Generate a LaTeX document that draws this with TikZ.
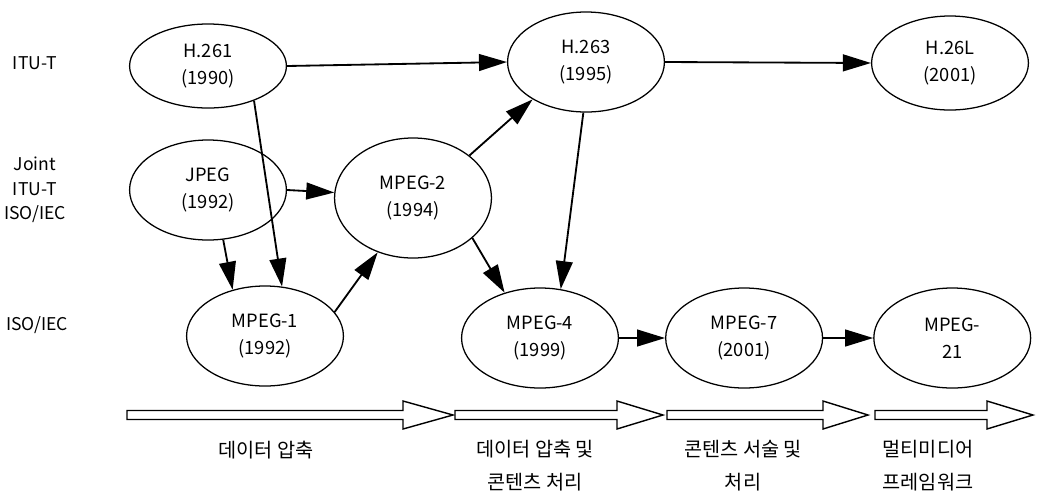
\documentclass[tikz,border=0pt]{standalone}
\usepackage{fontspec}
\setmainfont{Noto Sans CJK KR}
\usetikzlibrary{positioning,shapes.geometric,arrows.meta}

\begin{document}
\begin{tikzpicture}[x=0.025cm, y=-0.025cm,
        stdnode/.style={ellipse, draw=black, line width=0.9pt, inner sep=0pt, align=center, minimum width=3.92cm, minimum height=2.5cm, font=\fontsize{13}{19}\selectfont},
        groupnode/.style={align=center, font=\fontsize{12.5}{17.5}\selectfont},
        stagetext/.style={align=center, font=\fontsize{14}{23.5}\selectfont},
        link/.style={-{Triangle[length=0.7cm, width=0.42cm]}, line width=1.3pt},
        stagearrow/.style={draw=black, line width=1pt, fill=white, line join=miter},
]
        \useasboundingbox (0,0) rectangle (1039,496);

        % standard groups
        \node[groupnode] (itut) at (35,63) {ITU-T};
        \node[groupnode] (joint) at (35,190) {Joint\\ITU-T\\ISO/IEC};
        \node[groupnode] (isoiec) at (37,325) {ISO/IEC};

        % standards
        \node[stdnode, minimum height=2.1cm] (h261) at (208,66) {H.261\\(1990)};
        \node[stdnode] (h263) at (586,62) {H.263\\(1995)};
        \node[stdnode, minimum height=2.35cm] (h26l) at (950,63) {H.26L\\(2001)};
        \node[stdnode] (jpeg) at (208,190) {JPEG\\(1992)};
        \node[stdnode, minimum height=3cm] (mpeg2) at (413,198) {MPEG-2\\(1994)};
        \node[stdnode] (mpeg1) at (265,336) {MPEG-1\\(1992)};
        \node[stdnode] (mpeg4) at (540,338) {MPEG-4\\(1999)};
        \node[stdnode] (mpeg7) [right=1.15cm of mpeg4] {MPEG-7\\(2001)};
        \node[stdnode] (mpeg21) [right=1.25cm of mpeg7] {MPEG-\\21};

        \draw[link] (h261.east) -- (h263.west);
        \draw[link] (h263.east) -- (h26l.west);
        \draw[link] (h261.-37) -- (mpeg1.71);
        \draw[link] (jpeg.-73) -- (mpeg1.125);
        \draw[link] (jpeg.east) -- (mpeg2.176);
        \draw[link] (mpeg1.19) -- (mpeg2.-123);
        \draw[link] (mpeg2.37) -- (h263.-145);
        \draw[link] (mpeg2.-34) -- (mpeg4.128);
        \draw[link] (h263.-93) -- (mpeg4.67);
        \draw[link] (mpeg4.east) -- (mpeg7.west);
        \draw[link] (mpeg7.east) -- (mpeg21.west);

        % stages
        \foreach \xa/\xb/\xc in {127/403/453, 455/617/663, 667/823/868, 875/987/1033}
            \draw[stagearrow] (\xa,410.5) -- (\xb,410.5) -- (\xb,401) -- (\xc,415) -- (\xb,429) -- (\xb,419.5) -- (\xa,419.5) -- cycle;

        \node[stagetext] (stageone) at (266,450) {데이터 압축};
        \node[stagetext] (stagetwo) at (535,466) {데이터 압축 및\\콘텐츠 처리};
        \node[stagetext] (stagethree) at (743,466) {콘텐츠 서술 및\\처리};
        \node[stagetext] (stagefour) at (928,466) {멀티미디어\\프레임워크};
\end{tikzpicture}
\end{document}
